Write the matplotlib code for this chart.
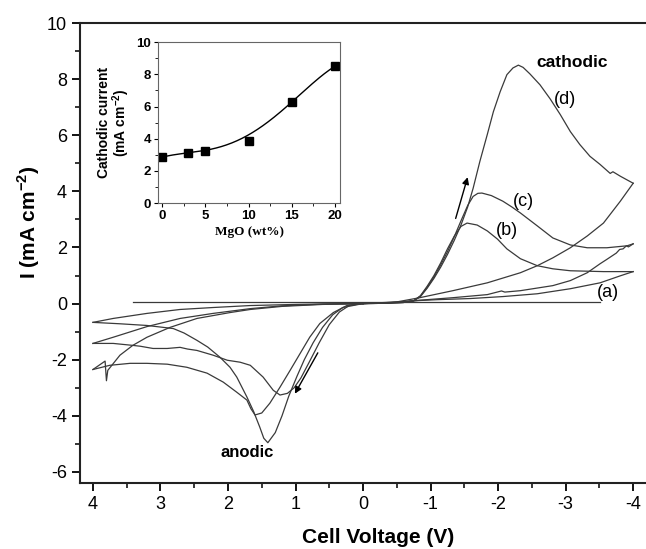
import matplotlib
matplotlib.use("Agg")
import matplotlib.pyplot as plt
from matplotlib.ticker import MultipleLocator
import numpy as np

plt.rcParams['font.family'] = ['Liberation Sans', 'DejaVu Sans']
plt.rcParams['axes.unicode_minus'] = False
plt.rcParams['mathtext.fontset'] = 'custom'
plt.rcParams['mathtext.rm'] = 'Liberation Sans'
plt.rcParams['mathtext.bf'] = 'Liberation Sans:bold'

# cyclic voltammograms, (V, I) pairs; cathodic scan 0 -> -4 V and back,
# anodic scan 0 -> +4 V and back
b_cath_fwd = [(0, 0), (-0.3, 0.01), (-0.6, 0.04), (-0.75, 0.1), (-0.85, 0.28), (-0.95, 0.62),
              (-1.05, 1.0), (-1.15, 1.45), (-1.25, 1.95), (-1.35, 2.4), (-1.45, 2.75), (-1.54, 2.87),
              (-1.69, 2.80), (-1.84, 2.59), (-1.99, 2.30), (-2.13, 1.95), (-2.33, 1.60), (-2.58, 1.35),
              (-2.81, 1.24), (-3.07, 1.17), (-3.56, 1.14), (-4.0, 1.14)]
b_cath_back = [(-4.0, 1.14), (-3.81, 0.99), (-3.51, 0.74), (-3.07, 0.53), (-2.58, 0.35), (-2.07, 0.25),
               (-1.59, 0.18), (-1.10, 0.14), (-0.84, 0.11), (-0.4, 0.04), (0, 0)]
c_cath_fwd = [(0, 0), (-0.3, 0.01), (-0.6, 0.04), (-0.75, 0.1), (-0.85, 0.27), (-0.95, 0.58),
              (-1.05, 0.95), (-1.15, 1.38), (-1.25, 1.85), (-1.35, 2.38), (-1.45, 2.95), (-1.55, 3.5),
              (-1.63, 3.82), (-1.7, 3.93), (-1.76, 3.94), (-1.9, 3.85), (-2.07, 3.65), (-2.2, 3.45),
              (-2.33, 3.23), (-2.58, 2.77), (-2.81, 2.34), (-3.07, 2.09), (-3.32, 1.99), (-3.61, 1.99),
              (-3.91, 2.06), (-4.0, 2.13)]
c_cath_back = [(-4.0, 2.13), (-3.93, 2.02), (-3.9, 2.06), (-3.85, 1.95), (-3.8, 1.93), (-3.75, 1.80),
               (-3.7, 1.72), (-3.6, 1.56), (-3.51, 1.42), (-3.32, 1.10), (-3.07, 0.82), (-2.81, 0.64),
               (-2.33, 0.46), (-2.1, 0.41), (-2.05, 0.45), (-1.84, 0.32), (-1.33, 0.21), (-0.84, 0.12),
               (-0.4, 0.03), (0, 0)]
d_cath_fwd = [(0, 0), (-0.3, 0.01), (-0.6, 0.04), (-0.75, 0.1), (-0.85, 0.25), (-0.95, 0.55),
              (-1.05, 0.9), (-1.15, 1.3), (-1.25, 1.75), (-1.35, 2.25), (-1.45, 2.8), (-1.55, 3.45),
              (-1.63, 4.11), (-1.73, 5.07), (-1.84, 6.03), (-1.93, 6.84), (-2.03, 7.55), (-2.13, 8.16),
              (-2.22, 8.40), (-2.30, 8.50), (-2.37, 8.42), (-2.47, 8.19), (-2.62, 7.80), (-2.77, 7.30),
              (-2.92, 6.74), (-3.07, 6.13), (-3.21, 5.67), (-3.36, 5.25), (-3.51, 4.96), (-3.66, 4.64),
              (-3.70, 4.70), (-3.81, 4.54), (-4.0, 4.29)]
d_cath_back = [(-4.0, 4.29), (-3.81, 3.65), (-3.56, 2.87), (-3.32, 2.41), (-3.07, 1.99), (-2.81, 1.63),
               (-2.58, 1.35), (-2.33, 1.10), (-1.84, 0.74), (-1.33, 0.46), (-0.84, 0.21), (-0.5, 0.06),
               (0, 0)]

b_an_fwd = [(0, 0), (0.2, -0.06), (0.35, -0.3), (0.5, -0.75), (0.65, -1.4), (0.8, -2.1),
            (0.92, -2.65), (1.02, -3.0), (1.12, -3.2), (1.23, -3.26), (1.33, -3.09), (1.48, -2.62),
            (1.67, -2.2), (1.82, -2.09), (2.01, -2.02), (2.22, -1.84), (2.46, -1.67), (2.6, -1.62),
            (2.71, -1.56), (2.9, -1.6), (3.11, -1.60), (3.3, -1.52), (3.41, -1.49), (3.70, -1.42),
            (4.0, -1.42)]
b_an_back = [(4.0, -1.42), (3.7, -1.2), (3.2, -0.82), (2.71, -0.53), (2.22, -0.35), (1.67, -0.18),
             (1.2, -0.08), (0.6, -0.02), (0, 0)]
c_an_fwd = [(0, 0), (0.24, -0.07), (0.44, -0.32), (0.64, -0.71), (0.79, -1.2), (0.93, -1.77),
            (1.08, -2.38), (1.23, -2.98), (1.38, -3.55), (1.5, -3.9), (1.6, -3.97), (1.66, -3.75),
            (1.72, -3.44), (1.87, -3.16), (2.07, -2.8), (2.31, -2.48), (2.61, -2.27), (2.9, -2.16),
            (3.2, -2.13), (3.45, -2.13), (3.75, -2.2), (4.0, -2.35)]
c_an_back = [(4.0, -2.35), (3.82, -2.05), (3.8, -2.75), (3.78, -2.38), (3.6, -1.84), (3.41, -1.49),
             (3.2, -1.2), (2.86, -0.85), (2.46, -0.53), (1.97, -0.32), (1.67, -0.21), (1.2, -0.1),
             (0.6, -0.03), (0, 0)]
d_an_fwd = [(0, 0), (0.3, -0.14), (0.45, -0.4), (0.6, -0.85), (0.74, -1.4), (0.87, -2.0),
            (0.98, -2.6), (1.1, -3.3), (1.2, -4.0), (1.3, -4.6), (1.41, -4.96), (1.47, -4.8),
            (1.53, -4.4), (1.62, -3.85), (1.72, -3.33), (1.87, -2.62), (1.97, -2.27), (2.12, -1.91),
            (2.3, -1.55), (2.46, -1.31), (2.65, -1.05), (2.81, -0.89), (3.2, -0.78), (3.6, -0.72),
            (4.0, -0.67)]
d_an_back = [(4.0, -0.67), (3.7, -0.53), (3.2, -0.35), (2.71, -0.21), (2.22, -0.14), (1.67, -0.07),
             (1.0, -0.03), (0.5, -0.01), (0, 0)]

# sample (a): practically no current over the scan
a_line = [(3.41, 0.05), (-3.51, 0.05)]

# inset: cathodic peak current vs MgO content, and the fitted trend line
mgo = [0, 3, 5, 10, 15, 20]
cath_current = [2.85, 3.1, 3.25, 3.85, 6.3, 8.5]
trend_x = [0, 3, 5, 7.5, 10, 12.5, 15, 17.5, 20]
trend_y = [2.86, 3.1, 3.3, 3.65, 4.2, 5.15, 6.3, 7.45, 8.5]

fig = plt.figure(figsize=(6.46, 5.49), dpi=100)
ax = fig.add_axes([0.124, 0.120, 0.876, 0.838])

line_kw = dict(color='#3a3a3a', lw=0.9)
for branch in [b_cath_fwd, b_cath_back, c_cath_fwd, c_cath_back, d_cath_fwd, d_cath_back,
               b_an_fwd, b_an_back, c_an_fwd, c_an_back, d_an_fwd, d_an_back, a_line]:
    v, i = zip(*branch)
    ax.plot(v, i, **line_kw)

ax.set_xlim(4.19, -4.19)
ax.set_ylim(-6.4, 10)
ax.xaxis.set_major_locator(MultipleLocator(1))
ax.xaxis.set_minor_locator(MultipleLocator(0.5))
ax.yaxis.set_major_locator(MultipleLocator(2))
ax.yaxis.set_minor_locator(MultipleLocator(1))
ax.tick_params(which='major', direction='out', length=6, width=1.3, labelsize=13)
ax.tick_params(which='minor', direction='out', length=3.5, width=1.1)
ax.spines['right'].set_visible(False)
for s in ['left', 'bottom', 'top']:
    ax.spines[s].set_linewidth(1.5)
    ax.spines[s].set_color('#222222')

ax.set_xlabel('Cell Voltage (V)', fontsize=15, fontweight='bold')
ax.xaxis.set_label_coords(0.526, -0.098)
ax.set_ylabel('I (mA cm$^{\\mathbf{-2}}$)', fontsize=15, fontweight='bold')
ax.yaxis.set_label_coords(-0.068, 0.567)

ax.text(-3.1, 8.58, 'cathodic', fontsize=12.5, fontweight='bold', ha='center', va='center')
ax.text(1.72, -5.32, 'anodic', fontsize=12, fontweight='bold', ha='center', va='center')
ax.text(-2.99, 7.27, '(d)', fontsize=13, ha='center', va='center')
ax.text(-2.37, 3.65, '(c)', fontsize=13, ha='center', va='center')
ax.text(-2.13, 2.59, '(b)', fontsize=13, ha='center', va='center')
ax.text(-3.62, 0.39, '(a)', fontsize=13, ha='center', va='center')

arrow_kw = dict(arrowstyle='-|>', color='black', lw=1.0, mutation_scale=10)
ax.annotate('', xy=(-1.56, 4.6), xytext=(-1.36, 2.94), arrowprops=arrow_kw)
ax.annotate('', xy=(1.03, -3.3), xytext=(0.65, -1.67), arrowprops=arrow_kw)

# inset
ins = fig.add_axes([0.2446, 0.630, 0.2817, 0.2933])
fit = np.polyfit(trend_x, trend_y, 4)
xs = np.linspace(0, 20, 200)
ins.plot(xs, np.polyval(fit, xs), color='black', lw=1.0)
ins.plot(mgo, cath_current, 's', color='black', ms=5.5)
ins.set_xlim(-0.5, 20.6)
ins.set_ylim(0, 10)
ins.xaxis.set_major_locator(MultipleLocator(5))
ins.xaxis.set_minor_locator(MultipleLocator(2.5))
ins.yaxis.set_major_locator(MultipleLocator(2))
ins.yaxis.set_minor_locator(MultipleLocator(1))
ins.tick_params(which='major', direction='out', length=3, width=0.8, labelsize=9.5, pad=2)
ins.tick_params(which='minor', direction='out', length=2, width=0.6)
for lab in ins.get_xticklabels() + ins.get_yticklabels():
    lab.set_fontweight('bold')
for s in ins.spines.values():
    s.set_linewidth(0.8)
    s.set_color('#666666')
ins.set_xlabel('MgO (wt%)', fontsize=9.5, fontweight='bold', family='Liberation Serif', labelpad=3)
ins.set_ylabel('Cathodic current\n(mA cm$^{\\mathbf{-2}}$)', fontsize=10, fontweight='bold',
               labelpad=3, linespacing=1.0)

fig.savefig('out.png', dpi=100)
